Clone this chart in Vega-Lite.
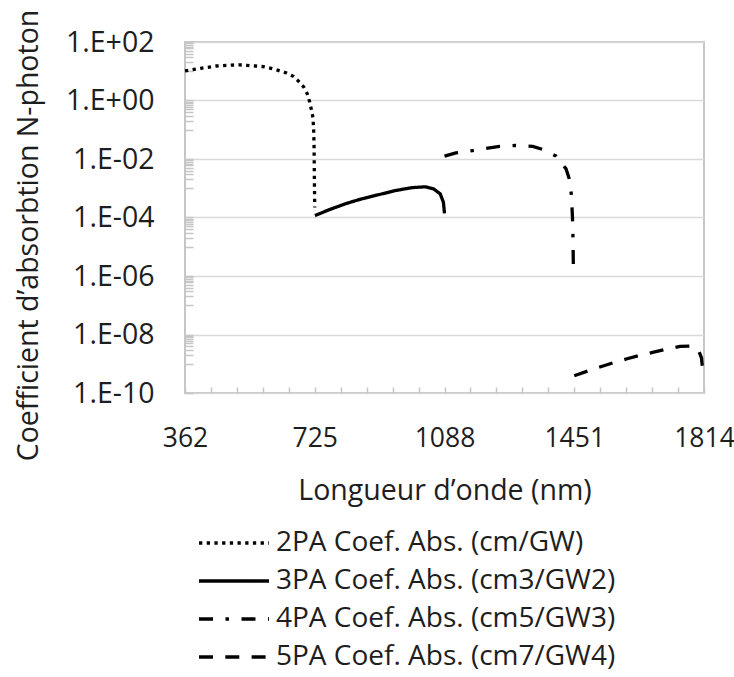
{
  "$schema": "https://vega.github.io/schema/vega-lite/v6.json",
  "width": 519,
  "height": 351,
  "autosize": "none",
  "padding": {"left": 185, "top": 42, "right": 30, "bottom": 284},
  "config": {
    "view": {"stroke": "#c6c6c6", "strokeWidth": 2},
    "font": "Open Sans",
    "axis": {"labelColor": "#1e1e1e", "titleColor": "#1e1e1e"},
    "legend": {"labelColor": "#1e1e1e"}
  },
  "data": {
    "values": [
      {"s": "2PA Coef. Abs. (cm/GW)", "x": 362, "y": 10.2},
      {"s": "2PA Coef. Abs. (cm/GW)", "x": 406, "y": 12.6},
      {"s": "2PA Coef. Abs. (cm/GW)", "x": 449, "y": 15.1},
      {"s": "2PA Coef. Abs. (cm/GW)", "x": 493, "y": 16.3},
      {"s": "2PA Coef. Abs. (cm/GW)", "x": 515, "y": 16.5},
      {"s": "2PA Coef. Abs. (cm/GW)", "x": 536, "y": 15.9},
      {"s": "2PA Coef. Abs. (cm/GW)", "x": 559, "y": 15.1},
      {"s": "2PA Coef. Abs. (cm/GW)", "x": 581, "y": 14.4},
      {"s": "2PA Coef. Abs. (cm/GW)", "x": 603, "y": 12.6},
      {"s": "2PA Coef. Abs. (cm/GW)", "x": 623, "y": 10.7},
      {"s": "2PA Coef. Abs. (cm/GW)", "x": 646, "y": 8.7},
      {"s": "2PA Coef. Abs. (cm/GW)", "x": 665, "y": 6.7},
      {"s": "2PA Coef. Abs. (cm/GW)", "x": 680, "y": 4.5},
      {"s": "2PA Coef. Abs. (cm/GW)", "x": 694, "y": 2.9},
      {"s": "2PA Coef. Abs. (cm/GW)", "x": 704, "y": 1.7},
      {"s": "2PA Coef. Abs. (cm/GW)", "x": 711, "y": 0.88},
      {"s": "2PA Coef. Abs. (cm/GW)", "x": 716, "y": 0.46},
      {"s": "2PA Coef. Abs. (cm/GW)", "x": 720, "y": 0.26},
      {"s": "2PA Coef. Abs. (cm/GW)", "x": 722, "y": 0.1},
      {"s": "2PA Coef. Abs. (cm/GW)", "x": 723, "y": 0.03},
      {"s": "2PA Coef. Abs. (cm/GW)", "x": 723.5, "y": 0.008},
      {"s": "2PA Coef. Abs. (cm/GW)", "x": 724, "y": 0.002},
      {"s": "2PA Coef. Abs. (cm/GW)", "x": 724.5, "y": 0.0006},
      {"s": "2PA Coef. Abs. (cm/GW)", "x": 725, "y": 0.00022},
      {"s": "3PA Coef. Abs. (cm3/GW2)", "x": 725.5, "y": 0.000116},
      {"s": "3PA Coef. Abs. (cm3/GW2)", "x": 764, "y": 0.000182},
      {"s": "3PA Coef. Abs. (cm3/GW2)", "x": 811, "y": 0.000295},
      {"s": "3PA Coef. Abs. (cm3/GW2)", "x": 857, "y": 0.000437},
      {"s": "3PA Coef. Abs. (cm3/GW2)", "x": 904, "y": 0.000603},
      {"s": "3PA Coef. Abs. (cm3/GW2)", "x": 950, "y": 0.000832},
      {"s": "3PA Coef. Abs. (cm3/GW2)", "x": 997, "y": 0.00105},
      {"s": "3PA Coef. Abs. (cm3/GW2)", "x": 1034, "y": 0.00112},
      {"s": "3PA Coef. Abs. (cm3/GW2)", "x": 1057, "y": 0.000955},
      {"s": "3PA Coef. Abs. (cm3/GW2)", "x": 1076, "y": 0.000646},
      {"s": "3PA Coef. Abs. (cm3/GW2)", "x": 1085, "y": 0.000331},
      {"s": "3PA Coef. Abs. (cm3/GW2)", "x": 1088, "y": 0.000138},
      {"s": "4PA Coef. Abs. (cm5/GW3)", "x": 1088, "y": 0.0125},
      {"s": "4PA Coef. Abs. (cm5/GW3)", "x": 1120, "y": 0.0162},
      {"s": "4PA Coef. Abs. (cm5/GW3)", "x": 1167, "y": 0.0195},
      {"s": "4PA Coef. Abs. (cm5/GW3)", "x": 1214, "y": 0.024},
      {"s": "4PA Coef. Abs. (cm5/GW3)", "x": 1242, "y": 0.027},
      {"s": "4PA Coef. Abs. (cm5/GW3)", "x": 1286, "y": 0.029},
      {"s": "4PA Coef. Abs. (cm5/GW3)", "x": 1335, "y": 0.027},
      {"s": "4PA Coef. Abs. (cm5/GW3)", "x": 1362, "y": 0.0214},
      {"s": "4PA Coef. Abs. (cm5/GW3)", "x": 1400, "y": 0.0126},
      {"s": "4PA Coef. Abs. (cm5/GW3)", "x": 1428, "y": 0.0046},
      {"s": "4PA Coef. Abs. (cm5/GW3)", "x": 1437, "y": 0.0021},
      {"s": "4PA Coef. Abs. (cm5/GW3)", "x": 1443, "y": 0.0006},
      {"s": "4PA Coef. Abs. (cm5/GW3)", "x": 1446, "y": 0.000102},
      {"s": "4PA Coef. Abs. (cm5/GW3)", "x": 1447.5, "y": 0.0000186},
      {"s": "4PA Coef. Abs. (cm5/GW3)", "x": 1448.5, "y": 0.00000224},
      {"s": "5PA Coef. Abs. (cm7/GW4)", "x": 1451, "y": 3.9e-10},
      {"s": "5PA Coef. Abs. (cm7/GW4)", "x": 1488, "y": 5.6e-10},
      {"s": "5PA Coef. Abs. (cm7/GW4)", "x": 1525, "y": 7.9e-10},
      {"s": "5PA Coef. Abs. (cm7/GW4)", "x": 1562, "y": 1.1e-9},
      {"s": "5PA Coef. Abs. (cm7/GW4)", "x": 1599, "y": 1.48e-9},
      {"s": "5PA Coef. Abs. (cm7/GW4)", "x": 1636, "y": 1.95e-9},
      {"s": "5PA Coef. Abs. (cm7/GW4)", "x": 1673, "y": 2.5e-9},
      {"s": "5PA Coef. Abs. (cm7/GW4)", "x": 1710, "y": 3.2e-9},
      {"s": "5PA Coef. Abs. (cm7/GW4)", "x": 1747, "y": 3.9e-9},
      {"s": "5PA Coef. Abs. (cm7/GW4)", "x": 1775, "y": 4.0e-9},
      {"s": "5PA Coef. Abs. (cm7/GW4)", "x": 1798, "y": 3.0e-9},
      {"s": "5PA Coef. Abs. (cm7/GW4)", "x": 1807, "y": 1.6e-9},
      {"s": "5PA Coef. Abs. (cm7/GW4)", "x": 1810, "y": 6.5e-10}
    ]
  },
  "mark": {"type": "line", "color": "black", "strokeWidth": 3.3, "strokeCap": "butt"},
  "encoding": {
    "x": {
      "field": "x",
      "type": "quantitative",
      "scale": {"domain": [362, 1814], "nice": false, "zero": false},
      "axis": {
        "values": [362, 434.6, 507.2, 579.8, 652.4, 725, 797.6, 870.2, 942.8, 1015.4, 1088, 1160.6, 1233.2, 1305.8, 1378.4, 1451, 1523.6, 1596.2, 1668.8, 1741.4, 1814],
        "labelExpr": "indexof([362,725,1088,1451,1814], datum.value) >= 0 ? toString(datum.value) : ''",
        "grid": false,
        "domain": false,
        "tickColor": "#c6c6c6",
        "tickWidth": 1.5,
        "tickSize": -6,
        "labelFlush": false,
        "labelOverlap": false,
        "labelFontSize": 26.5,
        "labelBaseline": "middle",
        "labelPadding": 51,
        "title": "Longueur d’onde (nm)",
        "titleFontSize": 28.5,
        "titleFontWeight": "normal",
        "titleBaseline": "middle",
        "titleY": 97
      }
    },
    "y": {
      "field": "y",
      "type": "quantitative",
      "scale": {"type": "log", "domain": [1e-10, 100], "nice": false},
      "axis": {
        "values": [1e-10, 1e-9, 2e-9, 3e-9, 4e-9, 5e-9, 6e-9, 7e-9, 8e-9, 9e-9,
                   1e-8, 1e-7, 2e-7, 3e-7, 4e-7, 5e-7, 6e-7, 7e-7, 8e-7, 9e-7,
                   1e-6, 1e-5, 2e-5, 3e-5, 4e-5, 5e-5, 6e-5, 7e-5, 8e-5, 9e-5,
                   1e-4, 1e-3, 2e-3, 3e-3, 4e-3, 5e-3, 6e-3, 7e-3, 8e-3, 9e-3,
                   1e-2, 0.1, 0.2, 0.3, 0.4, 0.5, 0.6, 0.7, 0.8, 0.9,
                   1, 10, 20, 30, 40, 50, 60, 70, 80, 90, 100],
        "labelExpr": "abs(log(datum.value)/LN10/2 - round(log(datum.value)/LN10/2)) < 0.001 ? '1.E' + (datum.value >= 1 ? '+' : '-') + pad(toString(abs(round(log(datum.value)/LN10))), 2, '0', 'left') : ''",
        "gridOpacity": {"condition": {"test": "abs(log(datum.value)/LN10/2 - round(log(datum.value)/LN10/2)) < 0.001", "value": 1}, "value": 0},
        "gridColor": "#d9d9d9",
        "gridWidth": 1.5,
        "domain": false,
        "tickColor": "#c6c6c6",
        "tickWidth": 1.5,
        "tickSize": -8,
        "labelFlush": false,
        "labelOverlap": false,
        "labelFontSize": 28.5,
        "labelPadding": 39,
        "title": "Coefficient d’absorbtion N-photon",
        "titleFontSize": 28.5,
        "titleFontWeight": "normal",
        "titleAngle": -90,
        "titleBaseline": "middle",
        "titleAlign": "center",
        "titleX": -157,
        "titleY": 193
      }
    },
    "strokeDash": {
      "field": "s",
      "type": "nominal",
      "scale": {
        "domain": ["2PA Coef. Abs. (cm/GW)", "3PA Coef. Abs. (cm3/GW2)", "4PA Coef. Abs. (cm5/GW3)", "5PA Coef. Abs. (cm7/GW4)"],
        "range": [[3.3, 4.4], [1, 0], [14, 12.5, 3.5, 12.5], [14, 12.3]]
      },
      "legend": {
        "orient": "none",
        "legendX": 12,
        "legendY": 482,
        "title": null,
        "direction": "vertical",
        "symbolType": "stroke",
        "symbolSize": 4900,
        "symbolStrokeWidth": 3.3,
        "symbolStrokeColor": "black",
        "labelFontSize": 28,
        "labelOffset": 5,
        "labelLimit": 600,
        "clipHeight": 38,
        "rowPadding": 0,
        "padding": 0
      }
    }
  }
}
